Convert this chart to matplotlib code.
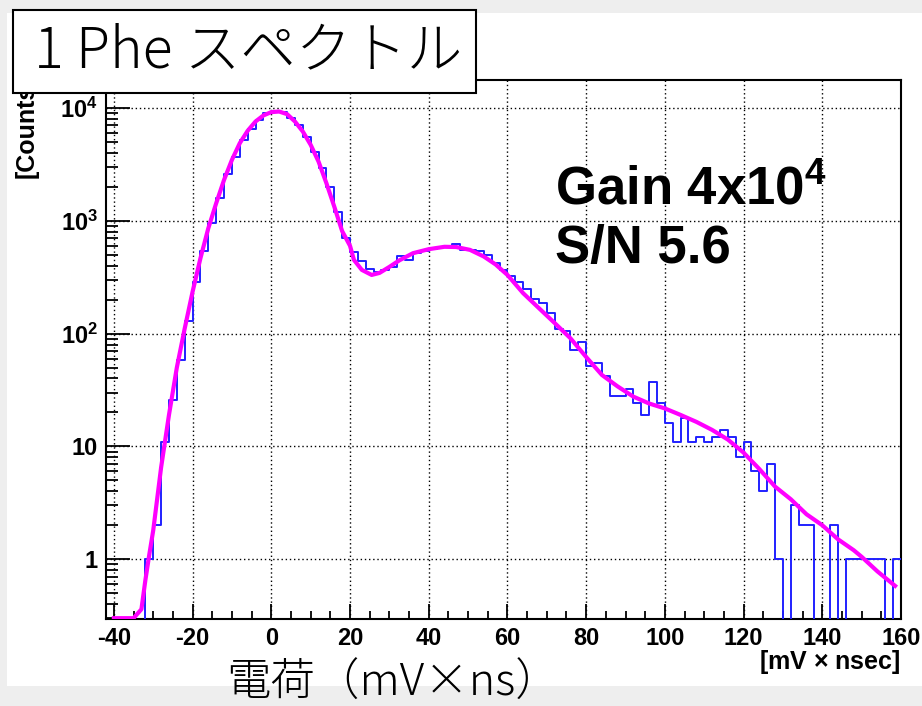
import numpy as np
import matplotlib
matplotlib.use('Agg')
import matplotlib.pyplot as plt
from matplotlib.patches import Rectangle
from matplotlib.ticker import MultipleLocator, LogLocator, NullFormatter

plt.rcParams['font.family'] = ['Liberation Sans', 'DejaVu Sans']
plt.rcParams['mathtext.fontset'] = 'custom'
plt.rcParams['mathtext.rm'] = 'Liberation Sans:bold'
plt.rcParams['mathtext.bf'] = 'Liberation Sans:bold'
plt.rcParams['mathtext.it'] = 'Liberation Sans:bold'

# histogram, 2 mV*ns bins from -42 to 160
bin_edges = np.arange(-42, 161, 2)
counts = [0, 0, 0, 0, 0,
          1, 2, 11, 26, 58, 128, 285, 544, 964, 1607, 2608, 3690, 5220, 6530, 7850, 9020,
          9300, 9250, 8130, 7100, 5520, 4110, 2966, 1973, 1190, 710,
          533, 444, 372, 354, 367, 393, 489, 450, 522, 544,
          565, 580, 590, 625, 552, 552, 545, 498, 426, 367,
          324, 289, 247, 201, 186, 151, 109, 106, 72, 84,
          52, 55, 42, 28, 28, 32, 24, 19, 37, 24,
          16, 11, 18, 11, 12, 11, 12, 14, 12, 8,
          11, 6, 4, 7, 1, 0, 3, 2, 2, 0,
          0, 2, 0, 1, 1, 1, 1, 1, 0, 1]
assert len(counts) == len(bin_edges) - 1

# fitted curve
fit_x = [-40, -35, -33, -32, -31, -30, -28, -26, -24, -22, -20, -18, -16, -14, -12,
         -10, -8, -6, -4, -2, 0, 2, 4, 6, 8, 10, 12, 14, 16, 18, 20, 21, 23, 25.5,
         27.5, 30, 32.5, 36, 40, 44, 47, 50.5, 54, 57, 60, 64, 68, 72, 76, 80, 84,
         88, 92, 96, 100, 104, 108, 112, 116, 120, 124, 128, 132, 136, 140, 144,
         148, 150, 154, 158.5]
fit_y = [0.3, 0.3, 0.36, 0.65, 1.1, 1.8, 6.5, 19, 50, 111, 235, 466, 859, 1432, 2306,
         3470, 4880, 6280, 7590, 8590, 9190, 9300, 8820, 7590, 6190, 4715, 3350, 2156,
         1336, 810, 600, 450, 367, 331, 345, 390, 445, 516, 560, 588, 585, 552, 482,
         410, 331, 228, 168, 124, 91, 62, 43, 34, 27.6, 24, 21.7, 19, 16.5, 14, 11.5,
         8.8, 6.3, 4.4, 3.4, 2.5, 2.0, 1.5, 1.2, 1.05, 0.78, 0.58]

x_ticks = [-40, -20, 0, 20, 40, 60, 80, 100, 120, 140, 160]
x_labels = ['-40', '-20', '0', '20', '40', '60', '80', '100', '120', '140', '160']
y_ticks = [1, 10, 100, 1000, 10000]
y_labels = ['1', '10', r'$10^{2}$', r'$10^{3}$', r'$10^{4}$']

W, H = 922, 706
fig = plt.figure(figsize=(W / 100, H / 100), dpi=100, facecolor='#eeeeee')


def fx(x):
    return x / W


def fy(y):
    return 1 - y / H


# white slide panel behind the plot
fig.add_artist(Rectangle((fx(7), fy(686)), fx(922) - fx(7), fy(13) - fy(686),
                         transform=fig.transFigure, facecolor='white',
                         edgecolor='none', zorder=-5))

ax = fig.add_axes([fx(106), fy(619), fx(901) - fx(106), fy(80) - fy(619)])
ax.step(bin_edges, np.append(counts, counts[-1]), where='post',
        color='#2020ff', lw=1.4, zorder=3)
ax.plot(fit_x, fit_y, color='#ff00ff', lw=3, zorder=4)

ax.set_yscale('log', nonpositive='clip')
ax.set_xlim(-42, 160)
ax.set_ylim(0.295, 17700)

ax.set_xticks(x_ticks)
ax.set_xticklabels(x_labels, fontweight='bold', fontsize=17)
ax.xaxis.set_minor_locator(MultipleLocator(5))
ax.set_yticks(y_ticks)
ax.set_yticklabels(y_labels, fontweight='bold', fontsize=17)
ax.yaxis.set_minor_locator(LogLocator(base=10, subs=np.arange(2, 10)))
ax.yaxis.set_minor_formatter(NullFormatter())

ax.tick_params(axis='x', which='major', direction='in', length=11, width=1.3, pad=6)
ax.tick_params(axis='x', which='minor', direction='in', length=6, width=1.3)
ax.tick_params(axis='y', which='major', direction='in', length=17, width=1.3, pad=6)
ax.tick_params(axis='y', which='minor', direction='in', length=8.5, width=1.3)
ax.tick_params(top=False, right=False, which='both')

ax.grid(True, which='major', color='black', linestyle=(0, (1, 2)), lw=1)
for s in ax.spines.values():
    s.set_linewidth(1.5)

# axis titles (ROOT style)
fig.text(fx(901), fy(662), '[mV $\\times$ nsec]', ha='right', va='center',
         fontsize=18, fontweight='bold')
fig.text(fx(27), fy(76), '[Counts]', rotation=90, ha='center', va='top',
         fontsize=18, fontweight='bold', zorder=2)

ax.text(0.565, 0.77, 'Gain 4x10$^{4}$', transform=ax.transAxes,
        fontsize=38, fontweight='bold', va='baseline')
ax.text(0.565, 0.66, 'S/N 5.6', transform=ax.transAxes,
        fontsize=38, fontweight='bold', va='baseline')

# title box in the corner
fig.add_artist(Rectangle((fx(13), fy(93)), fx(476) - fx(13), fy(10) - fy(93),
                         transform=fig.transFigure, facecolor='white',
                         edgecolor='black', lw=1.5, zorder=5))
fig.text(fx(34), fy(67), '1 Phe スペクトル', ha='left', va='baseline', fontsize=40,
         family=['Noto Sans CJK JP', 'DejaVu Sans'], fontweight='light', zorder=6)

fig.text(fx(226), fy(696), '電荷（mV×ns）', ha='left', va='baseline', fontsize=32,
         family=['Noto Sans CJK JP', 'DejaVu Sans'], fontweight='light', zorder=6)

fig.savefig('out.png', dpi=100, facecolor=fig.get_facecolor())
